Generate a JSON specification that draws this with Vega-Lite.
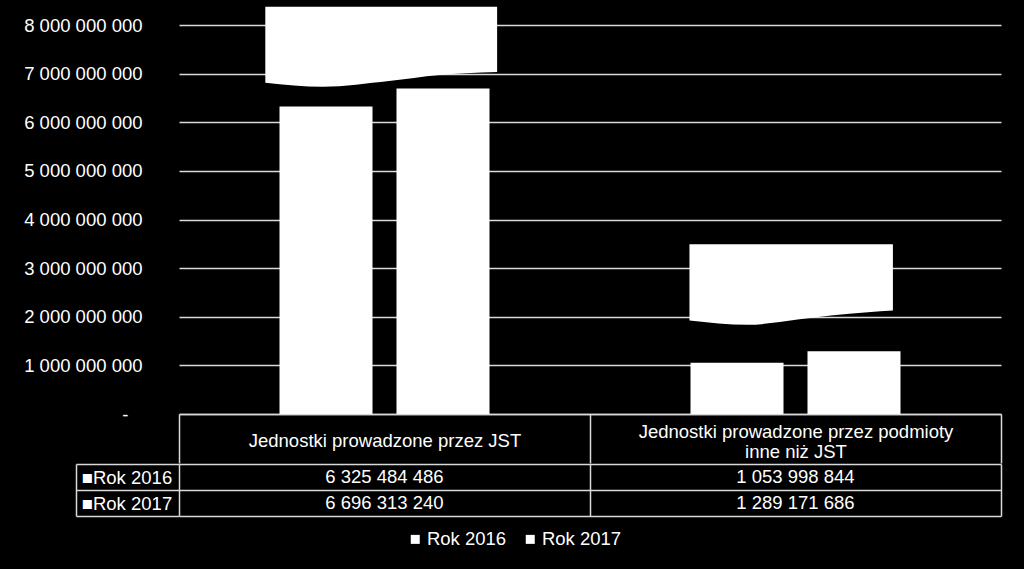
{
  "$schema": "https://vega.github.io/schema/vega-lite/v6.json",
  "background": "#000000",
  "padding": {"left": 23, "top": 6, "right": 24, "bottom": 21},
  "spacing": -9,
  "datasets": {
    "wydatki": [
      {"kat": "Jednostki prowadzone przez JST", "rok": "Rok 2016", "wartosc": 6325484486},
      {"kat": "Jednostki prowadzone przez JST", "rok": "Rok 2017", "wartosc": 6696313240},
      {"kat": "Jednostki prowadzone przez podmioty|inne niż JST", "rok": "Rok 2016", "wartosc": 1053998844},
      {"kat": "Jednostki prowadzone przez podmioty|inne niż JST", "rok": "Rok 2017", "wartosc": 1289171686}
    ],
    "objasnienia": [
      {"ksztalt": "a", "pos": 0.210, "gora": 8376000000, "dol": 6813000000},
      {"ksztalt": "a", "pos": 0.350, "gora": 8376000000, "dol": 6731000000},
      {"ksztalt": "a", "pos": 0.511, "gora": 8376000000, "dol": 6848000000},
      {"ksztalt": "a", "pos": 0.633, "gora": 8376000000, "dol": 6972000000},
      {"ksztalt": "a", "pos": 0.698, "gora": 8376000000, "dol": 7007000000},
      {"ksztalt": "a", "pos": 0.774, "gora": 8376000000, "dol": 7033000000},
      {"ksztalt": "b", "pos": 1.242, "gora": 3490000000, "dol": 1923000000},
      {"ksztalt": "b", "pos": 1.384, "gora": 3490000000, "dol": 1834000000},
      {"ksztalt": "b", "pos": 1.505, "gora": 3490000000, "dol": 1943000000},
      {"ksztalt": "b", "pos": 1.586, "gora": 3490000000, "dol": 2026000000},
      {"ksztalt": "b", "pos": 1.676, "gora": 3490000000, "dol": 2094000000},
      {"ksztalt": "b", "pos": 1.737, "gora": 3490000000, "dol": 2129000000}
    ]
  },
  "data": {"name": "wydatki"},
  "resolve": {"scale": {"x": "independent", "y": "independent"}},
  "vconcat": [
    {
      "width": 822,
      "height": 389,
      "resolve": {"scale": {"x": "independent"}, "axis": {"x": "independent"}},
      "layer": [
        {
          "mark": {"type": "bar"},
          "encoding": {
            "x": {
              "field": "kat",
              "type": "nominal",
              "sort": null,
              "scale": {"paddingInner": 0, "paddingOuter": 0},
              "axis": {
                "title": null,
                "orient": "bottom",
                "labelAngle": 0,
                "labelExpr": "indexof(datum.label, '|') >= 0 ? '' : datum.label",
                "labelFontSize": 18.5,
                "labelColor": "#ffffff",
                "labelLimit": 420,
                "labelBaseline": "middle",
                "labelPadding": -23,
                "ticks": true,
                "tickBand": "extent",
                "tickSize": 49,
                "tickColor": "#d9d9d9",
                "tickWidth": 1.5,
                "domain": true,
                "domainColor": "#d9d9d9",
                "domainWidth": 1.5,
                "grid": false
              }
            },
            "xOffset": {
              "field": "rok",
              "type": "nominal",
              "scale": {"paddingInner": 0.205, "paddingOuter": 0.859}
            },
            "y": {
              "field": "wartosc",
              "type": "quantitative",
              "scale": {"domain": [0, 8000000000], "nice": false},
              "axis": {
                "title": null,
                "values": [0, 1000000000, 2000000000, 3000000000, 4000000000, 5000000000, 6000000000, 7000000000, 8000000000],
                "format": ",d",
                "labelExpr": "datum.value == 0 ? '-\u2800' : datum.label",
                "labelFontSize": 18.5,
                "labelColor": "#ffffff",
                "labelPadding": 37,
                "ticks": false,
                "domain": false,
                "grid": true,
                "gridColor": "#d9d9d9",
                "gridWidth": 1.5
              }
            },
            "color": {
              "field": "rok",
              "type": "nominal",
              "scale": {"range": ["#ffffff", "#ffffff"]},
              "legend": {
                "orient": "none",
                "legendX": 227,
                "legendY": 505,
                "direction": "horizontal",
                "title": null,
                "padding": 0,
                "symbolType": "square",
                "symbolSize": 81,
                "symbolStrokeWidth": 0,
                "symbolOpacity": 1,
                "labelFontSize": 18.5,
                "labelColor": "#ffffff",
                "labelOffset": 2.4,
                "columnPadding": 14
              }
            }
          }
        },
        {
          "data": {"name": "objasnienia"},
          "mark": {"type": "area", "color": "#ffffff", "opacity": 1, "interpolate": "monotone"},
          "encoding": {
            "x": {
              "field": "pos",
              "type": "quantitative",
              "scale": {"domain": [0, 2], "nice": false, "zero": false},
              "axis": {
                "title": null,
                "orient": "bottom",
                "values": [1.5],
                "labelExpr": "['Jednostki prowadzone przez podmioty', 'inne niż JST']",
                "labelFontSize": 18.5,
                "labelColor": "#ffffff",
                "labelLimit": 420,
                "labelLineHeight": 20,
                "labelBaseline": "middle",
                "labelPadding": 17,
                "labelFlush": false,
                "ticks": false,
                "domain": false,
                "grid": false
              }
            },
            "y": {"field": "gora", "type": "quantitative", "stack": null, "axis": {"title": null}},
            "y2": {"field": "dol"},
            "detail": {"field": "ksztalt", "type": "nominal"}
          }
        }
      ]
    },
    {
      "width": 822,
      "height": 52,
      "mark": {"type": "text", "color": "#ffffff", "fontSize": 18.5, "baseline": "middle", "align": "center"},
      "encoding": {
        "x": {
          "field": "kat",
          "type": "nominal",
          "sort": null,
          "scale": {"paddingInner": 0, "paddingOuter": 0},
          "axis": {
            "title": null,
            "labels": false,
            "ticks": false,
            "domain": false,
            "grid": true,
            "tickBand": "extent",
            "gridColor": "#d9d9d9",
            "gridWidth": 1.5
          }
        },
        "y": {
          "field": "rok",
          "type": "nominal",
          "scale": {"paddingInner": 0, "paddingOuter": 0},
          "axis": {
            "title": null,
            "offset": 103,
            "labelExpr": "datum.label ? '■' + datum.label : ''",
            "labelAlign": "left",
            "labelBaseline": "middle",
            "labelPadding": 97.7,
            "labelFontSize": 18.5,
            "labelColor": "#ffffff",
            "ticks": true,
            "tickBand": "extent",
            "tickSize": -103,
            "tickColor": "#d9d9d9",
            "tickWidth": 1.5,
            "domain": true,
            "domainColor": "#d9d9d9",
            "domainWidth": 1.5,
            "grid": true,
            "gridColor": "#d9d9d9",
            "gridWidth": 1.5
          }
        },
        "text": {"field": "wartosc", "type": "quantitative", "format": ",d"}
      }
    }
  ],
  "config": {
    "font": "Liberation Sans",
    "view": {"stroke": null},
    "locale": {
      "number": {"decimal": ",", "thousands": " ", "grouping": [3], "currency": ["", " zł"]}
    }
  }
}
